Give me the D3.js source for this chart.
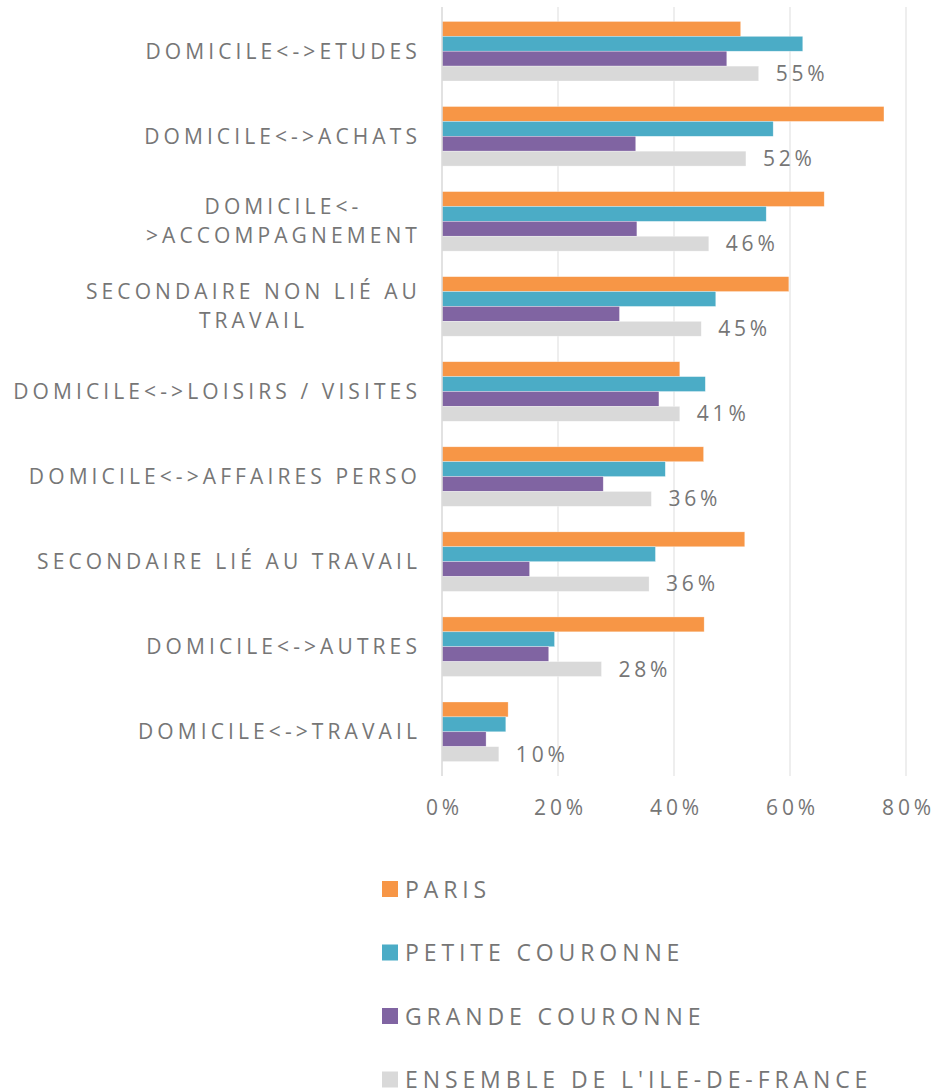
<!DOCTYPE html>
<html>
<head>
<meta charset="utf-8">
<script src="https://cdn.jsdelivr.net/npm/d3@7"></script>
<style>
  body { margin: 0; background: #fff; }
  text { font-family: "Open Sans", sans-serif; fill: #767676; }
</style>
</head>
<body>
<svg id="chart" width="934" height="1090"></svg>
<script>
// categories, top to bottom (lines split as in the source chart)
var categories = [
  ["DOMICILE<->ETUDES"],
  ["DOMICILE<->ACHATS"],
  ["DOMICILE<-", ">ACCOMPAGNEMENT"],
  ["SECONDAIRE NON LIÉ AU", "TRAVAIL"],
  ["DOMICILE<->LOISIRS / VISITES"],
  ["DOMICILE<->AFFAIRES PERSO"],
  ["SECONDAIRE LIÉ AU TRAVAIL"],
  ["DOMICILE<->AUTRES"],
  ["DOMICILE<->TRAVAIL"]
];
var seriesNames = ["PARIS", "PETITE COURONNE", "GRANDE COURONNE", "ENSEMBLE DE L'ILE-DE-FRANCE"];
var seriesColors = ["#f79646", "#4bacc6", "#8064a2", "#d9d9d9"];

var paris       = [0.515, 0.762, 0.659, 0.598, 0.410, 0.451, 0.522, 0.452, 0.114];
var petiteCour  = [0.622, 0.571, 0.559, 0.472, 0.454, 0.385, 0.368, 0.194, 0.110];
var grandeCour  = [0.491, 0.334, 0.336, 0.306, 0.374, 0.278, 0.151, 0.184, 0.076];
var ensembleIdf = [0.546, 0.524, 0.460, 0.447, 0.410, 0.361, 0.357, 0.275, 0.098];
var tickValues = [0, 0.2, 0.4, 0.6, 0.8];

var series = [paris, petiteCour, grandeCour, ensembleIdf];

var svg = d3.select("#chart");
var plotLeft = 442, plotRight = 906, plotTop = 7, plotBottom = 776;

var x = d3.scaleLinear().domain([0, 0.8]).range([plotLeft, plotRight]);
var y = d3.scaleBand().domain(d3.range(categories.length)).range([plotTop, plotBottom])
  .paddingInner(0.3).paddingOuter(0.17);
var ySub = d3.scaleBand().domain(d3.range(series.length)).range([0, y.bandwidth()]);

// gridlines
svg.append("g").selectAll("line").data(tickValues.slice(1)).join("line")
  .attr("x1", d => x(d)).attr("x2", d => x(d))
  .attr("y1", plotTop).attr("y2", plotBottom)
  .attr("stroke", "#e8e8e8").attr("stroke-width", 1.5);

// bars
var groups = svg.append("g").selectAll("g").data(categories).join("g")
  .attr("transform", (d, i) => "translate(0," + y(i) + ")");

groups.each(function(c, i) {
  d3.select(this).selectAll("rect").data(series.map((s, k) => ({k: k, v: s[i]}))).join("rect")
    .attr("x", x(0))
    .attr("y", d => ySub(d.k))
    .attr("width", d => x(d.v) - x(0))
    .attr("height", ySub.bandwidth())
    .attr("fill", d => seriesColors[d.k])
    .attr("stroke", "#fff").attr("stroke-opacity", 0.5).attr("stroke-width", 0.6);

  // data label on the Ile-de-France bar
  var v = ensembleIdf[i];
  d3.select(this).append("text")
    .attr("x", x(v) + 17)
    .attr("y", ySub(3) + ySub.bandwidth() / 2 + 7.5)
    .attr("font-size", 21).attr("letter-spacing", 3.8)
    .text(Math.round(v * 100) + "%");
});

// vertical axis line
svg.append("line")
  .attr("x1", x(0)).attr("x2", x(0)).attr("y1", plotTop).attr("y2", plotBottom)
  .attr("stroke", "#d9d9d9").attr("stroke-width", 1.5);

// category labels
var labelRight = 421, lineH = 29;
categories.forEach(function(lines, i) {
  var g = svg.append("g");
  var cy = y(i) + y.bandwidth() / 2;
  var t = g.selectAll("text").data(lines).join("text")
    .attr("font-size", 21).attr("letter-spacing", 4.1)
    .attr("text-anchor", "middle")
    .text(d => d);
  var maxW = d3.max(t.nodes(), n => n.getComputedTextLength());
  var cx = labelRight - maxW / 2;
  t.attr("x", cx)
    .attr("y", (d, j) => cy + (j - (lines.length - 1) / 2) * lineH + 7.5);
});

// x axis tick labels
var xAxis = d3.axisBottom(x).tickValues(tickValues).tickFormat(d3.format(".0%")).tickSize(0);
var ax = svg.append("g").attr("transform", "translate(0," + plotBottom + ")").call(xAxis);
ax.select(".domain").remove();
ax.selectAll("text")
  .attr("y", 39).attr("dy", 0).attr("dx", 2)
  .attr("font-size", 21).attr("letter-spacing", 3.8)
  .attr("fill", "#767676").style("font-family", "'Open Sans', sans-serif");

// legend
var legend = svg.append("g").selectAll("g").data(seriesNames).join("g")
  .attr("transform", (d, i) => "translate(382," + (889 + i * 63.5) + ")");
legend.append("rect")
  .attr("x", 0).attr("y", -8).attr("width", 16).attr("height", 16)
  .attr("fill", (d, i) => seriesColors[i]);
legend.append("text")
  .attr("x", 23).attr("y", 8.5)
  .attr("font-size", 23).attr("letter-spacing", 4.9)
  .text(d => d);
</script>
</body>
</html>
